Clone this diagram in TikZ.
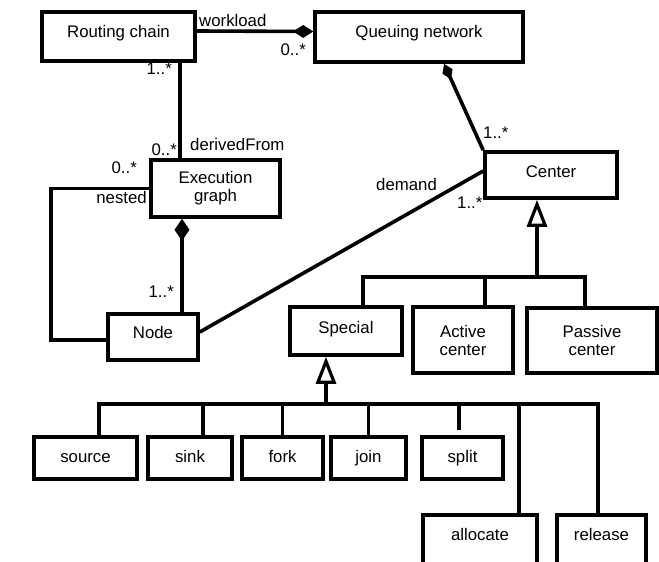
\documentclass[tikz,border=0pt]{standalone}
\usepackage{fontspec}
\setmainfont{Liberation Sans}
\usetikzlibrary{arrows.meta}
\begin{document}
\begin{tikzpicture}[x=1pt,y=-1pt,
  font=\fontsize{16.8}{18}\selectfont,
  box/.style={draw, line width=3.6pt, inner sep=0pt},
  one/.style={text height=12pt, text depth=#1},
  two/.style={align=center},
  dim/.style 2 args={minimum width=#1, minimum height=#2},
  conn/.style={line width=3.6pt},
  gen/.style={line width=3.2pt},
  lbl/.style={inner sep=0pt},
  comp/.style 2 args={{Diamond[length=#1,width=#2]}-},
  inherit/.style={-{Triangle[open,length=27pt,width=20pt]}}
]
\useasboundingbox (0,0) rectangle (659,562);
\clip (0,0) rectangle (659,562);

% classes
\node[box, one=11pt, dim={153pt}{49pt}] (routing)  at (118.5,36.5) {Routing chain};
\node[box, one=11pt, dim={208pt}{50pt}] (qn)       at (419,37)     {Queuing network};
\node[box, two,      dim={129pt}{57pt}] (exec)     at (215.5,188.5){Execution\\graph};
\node[box, one=10pt, dim={90pt}{46pt}]  (node)     at (153,337)    {Node};
\node[box, one=8pt,  dim={132pt}{46pt}] (center)   at (551,175)    {Center};
\node[box, one=8pt,  dim={112pt}{48pt}] (special)  at (346,331)    {Special};
\node[box, two,      dim={100pt}{66pt}] (active)   at (463,340)    {Active\\center};
\node[box, two,      dim={130pt}{65pt}] (passive)  at (592,340.5)  {Passive\\center};
\node[box, one=4pt,  dim={103pt}{42pt}] (source)   at (85.5,458)   {source};
\node[box, one=4pt,  dim={84pt}{42pt}]  (sink)     at (190,458)    {sink};
\node[box, one=4pt,  dim={81pt}{42pt}]  (fork)     at (282.5,458)  {fork};
\node[box, one=4pt,  dim={75pt}{42pt}]  (join)     at (368.5,458)  {join};
\node[box, one=4pt,  dim={81pt}{42pt}]  (split)    at (462.5,458)  {split};
\node[box, one=19pt, dim={114pt}{57pt}] (allocate) at (480,543.5)  {allocate};
\node[box, one=19pt, dim={89pt}{57pt}]  (release)  at (601.5,543.5){release};

% workload association
\coordinate (rce) at ([yshift=5.5pt]routing.east);
\coordinate (qnw) at ([yshift=5.5pt]qn.west);
\draw[conn, -{Diamond[length=20pt,width=13pt]}] (rce) -- (qnw);
\node[lbl, anchor=base west] (lwork) at (199,27) {workload};
\node[lbl, anchor=base east] (mwork) at (306,55) {0..*};

% derivedFrom association
\coordinate (rcb) at ([xshift=61.5pt]routing.south);
\draw[conn] (rcb) -- (rcb |- exec.north);
\node[lbl, anchor=base east] (mrc)  at (172,74)  {1..*};
\node[lbl, anchor=base east] (meg)  at (177,155) {0..*};
\node[lbl, anchor=base west] (lder) at (190,150) {derivedFrom};

% nested association
\coordinate (loopx) at (51,0);
\coordinate (ndw) at ([yshift=-3pt]node.west);
\draw[conn] (exec.west) -| (loopx |- ndw) -- (ndw);
\node[lbl, anchor=base east] (mnest) at (137,173) {0..*};
\node[lbl, anchor=base east] (lnest) at (147,203) {nested};

% graph composed of nodes
\coordinate (egb) at ([xshift=-33.5pt]exec.south);
\draw[conn, {Diamond[length=22pt,width=15pt]}-] (egb) -- (egb |- node.north);
\node[lbl, anchor=base east] (mnode) at (174,297) {1..*};

% network composed of centers
\coordinate (qnb) at ([xshift=25pt]qn.south);
\draw[conn, {Diamond[length=17pt,width=11pt]}-] (qnb) -- (center.north west);
\node[lbl, anchor=base west] (mcen) at (483,138) {1..*};

% demand association
\coordinate (nde) at ([yshift=5pt]node.east);
\coordinate (cew) at ([yshift=4pt]center.west);
\draw[conn] (nde) -- (cew);
\node[lbl, anchor=base west] (ldem) at (376,190) {demand};
\node[lbl, anchor=base west] (mdem) at (457,208) {1..*};

% specialisations of Center
\coordinate (cbus) at (537,277);
\coordinate (spn) at ([xshift=17pt]special.north);
\coordinate (acn) at ([xshift=22pt]active.north);
\coordinate (pcn) at ([xshift=-7pt]passive.north);
\draw[gen, inherit] (cbus) -- (cbus |- center.south);
\draw[gen] (spn) |- (cbus) -| (pcn);
\draw[gen] (acn) -- (acn |- cbus);

% specialisations of Special
\coordinate (sbus) at (326,404);
\coordinate (srn) at ([xshift=13.5pt]source.north);
\coordinate (skn) at ([xshift=13pt]sink.north);
\coordinate (fkn) at (fork.north);
\coordinate (jnn) at (join.north);
\coordinate (spt) at ([xshift=-3.5pt,yshift=5pt]split.north);
\coordinate (aln) at ([xshift=39pt]allocate.north);
\coordinate (rln) at ([xshift=-3.5pt]release.north);
\draw[gen, inherit] (sbus) -- (sbus |- special.south);
\draw[gen] (srn) |- (rln |- sbus) -- (rln);
\draw[gen] (skn) -- (skn |- sbus);
\draw[gen] (fkn) -- (fkn |- sbus);
\draw[gen] (jnn) -- (jnn |- sbus);
\draw[gen] (spt) -- (spt |- sbus);
\draw[gen] (aln) -- (aln |- sbus);
\end{tikzpicture}
\end{document}
